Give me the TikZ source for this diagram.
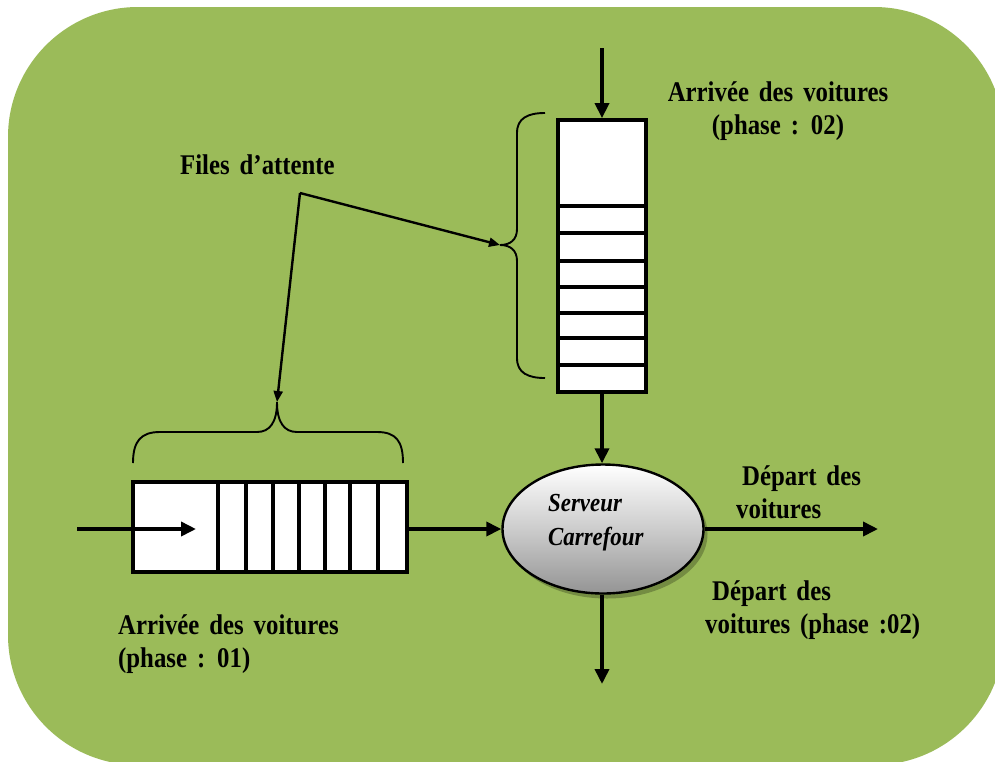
\documentclass[tikz,border=0pt]{standalone}
\usepackage{fontspec}
\setmainfont{Liberation Serif}
\newfontfamily\lblfont{Liberation Serif}[FakeStretch=0.87, WordSpace=1.6]
\newfontfamily\srvfont{Liberation Serif}[FakeStretch=0.88]
\usetikzlibrary{arrows.meta,shadows,calc,shapes.geometric}

\definecolor{bggreen}{RGB}{155,187,89}

\tikzset{
  lbl/.style={inner sep=0pt, font=\lblfont\bfseries\fontsize{28.5}{33}\selectfont, text=black},
  srvtxt/.style={inner sep=0pt, font=\srvfont\bfseries\itshape\fontsize{26}{34}\selectfont},
  queuebox/.style={draw=black, line width=3.8pt, fill=white, inner sep=0pt},
  cellsep/.style={draw=black, line width=3.3pt},
  flow/.style={line width=3.6pt, -{Triangle[length=15pt,width=14pt]}},
  pointer/.style={line width=2.4pt, -{Triangle[length=11pt,width=9pt]}},
  bracepath/.style={line width=1.9pt},
}

\begin{document}
\begin{tikzpicture}[x=1pt,y=-1pt]
\useasboundingbox (0,0) rectangle (995,761);

% background panel
\fill[white] (0,0) rectangle (995,761);
\begin{scope}
  \clip (0,0) rectangle (995,761);
  \fill[bggreen, rounded corners=130pt] (8,7) rectangle (1004,765);
\end{scope}

% vertical queue (phase 02)
\node[queuebox, minimum width=88pt, minimum height=272pt] (vq) at (602,256) {};
\foreach \yy in {206,233,261,287,313,338,365}
  \draw[cellsep] (559.5,\yy) -- (644.5,\yy);

% horizontal queue (phase 01)
\node[queuebox, minimum width=274pt, minimum height=90pt] (hq) at (270,527) {};
\foreach \xx in {218,246,273,299,325,350,378}
  \draw[cellsep] (\xx,483.5) -- (\xx,570.5);

% server
\node[ellipse, draw=black, line width=2.4pt, minimum width=201pt, minimum height=129pt,
      top color=white, bottom color=black!42, middle color=white!80!black,
      drop shadow={shadow xshift=4pt, shadow yshift=-5pt, fill=black, opacity=0.25}] (srv) at (603,529) {};
\node[srvtxt, anchor=base west] (srvA) at (548,511) {Serveur};
\node[srvtxt, anchor=base west] (srvB) at (548,545) {Carrefour};

% flows
\coordinate (vin) at (602,48);
\draw[flow] (vin) -- (vq.north);
\draw[flow] (vq.south) -- (vq.south |- srv.north);
\coordinate (hin) at (77,529);
\coordinate (hinend) at (196,529);
\draw[flow] (hin) -- (hinend);
\draw[flow] (hq.east |- srv.west) -- (srv.west);
\coordinate (outA) at (878,529);
\draw[flow] (srv.east) -- (outA);
\coordinate (outB) at (602,684);
\draw[flow] (srv.south -| outB) -- (outB);

% braces
\coordinate (vtip) at (500,245);
\draw[bracepath] (545,113) .. controls (528,113) and (517,118) .. (517,133)
  -- (517,229) .. controls (517,240) and (510,245) .. (vtip)
  .. controls (510,245) and (517,250) .. (517,261)
  -- (517,358) .. controls (517,373) and (528,378) .. (545,378);
\coordinate (htip) at (277,402);
\draw[bracepath] (133,463) .. controls (133,441) and (141,432) .. (160,432)
  -- (257,432) .. controls (270,432) and (277,422) .. (htip)
  .. controls (277,422) and (284,432) .. (297,432)
  -- (377,432) .. controls (396,432) and (403,441) .. (403,463);

% labels (multi-line nodes: base anchor sits on the last line)
\node[lbl, anchor=base west] (fa) at (180,174) {Files d’attente};
\coordinate (fork) at (300,193);
\draw[pointer] (fork) -- (vtip);
\draw[pointer] (fork) -- (htip);

\node[lbl, align=center, anchor=base] (arr2) at (778,134) {Arrivée des voitures\\(phase : 02)};
\node[lbl, align=left, anchor=base west] (arr1) at (118,667) {Arrivée des voitures\\(phase : 01)};
\node[lbl, align=left, anchor=base west] (dep1) at (736,518) {\hspace{6pt}Départ des\\voitures};
\node[lbl, align=left, anchor=base west] (dep2) at (705,633) {\hspace{7pt}Départ des\\voitures (phase :02)};
\end{tikzpicture}
\end{document}
